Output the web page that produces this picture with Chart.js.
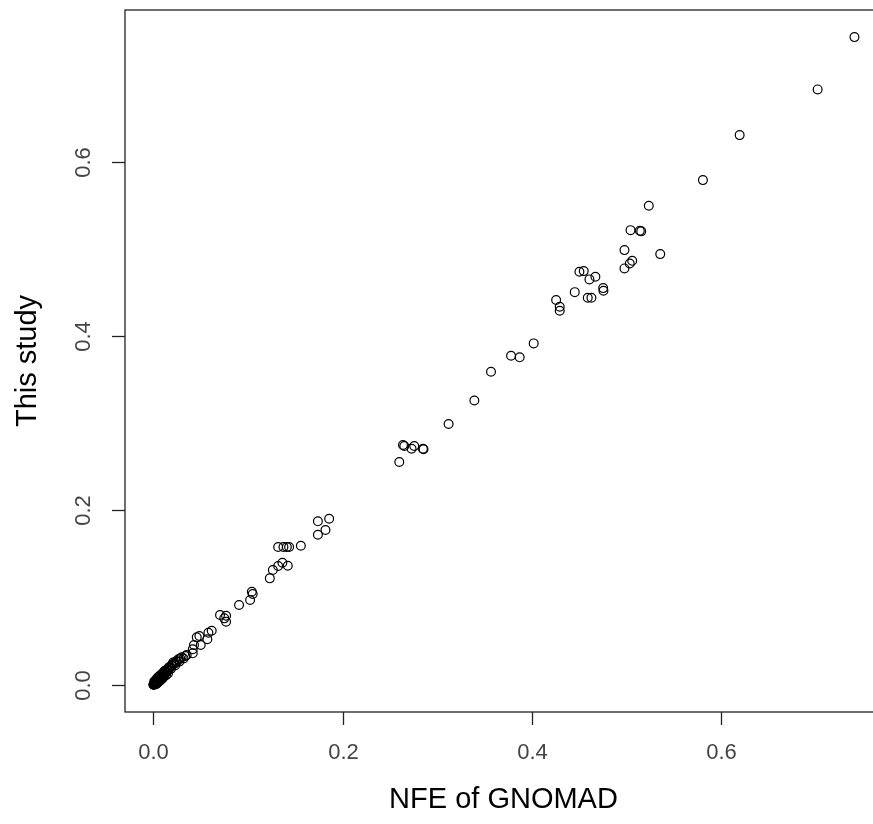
<!DOCTYPE html>
<html>
<head>
  <meta charset="utf-8">
  <style>
    html, body { margin: 0; padding: 0; background: white; overflow: hidden; }
    #wrap { width: 890px; height: 824px; }
  </style>
  <script src="https://cdn.jsdelivr.net/npm/chart.js@4.4.0/dist/chart.umd.min.js"></script>
</head>
<body>
  <div id="wrap"><canvas id="myChart" width="890" height="824"></canvas></div>
  <script>
    // NFE of GNOMAD (x) vs this study (y)
    var gnomad = [
      0.7408, 0.7019, 0.6195, 0.5807, 0.5235, 0.5356, 0.5140, 0.5155, 0.5042, 0.4978,
      0.5060, 0.5034, 0.4978, 0.4502, 0.4548, 0.4608, 0.4671, 0.4753, 0.4756, 0.4453,
      0.4590, 0.4629, 0.4256, 0.4294, 0.4294, 0.4019, 0.3780, 0.3871, 0.3568, 0.3392,
      0.3120, 0.2638, 0.2652, 0.2757, 0.2729, 0.2849, 0.2855, 0.2599, 0.1858, 0.1739,
      0.1819, 0.1739, 0.1559, 0.1319, 0.1375, 0.1411, 0.1435, 0.1364, 0.1421, 0.1319,
      0.1263, 0.1231, 0.1041, 0.1050, 0.1023, 0.0906, 0.0705, 0.0769, 0.0750, 0.0769,
      0.0617, 0.0582, 0.0487, 0.0459, 0.0571, 0.0501, 0.0430, 0.0417, 0.0417, 0.0353,
      0.0300, 0.0265, 0.0240, 0.0225, 0.0210, 0.0195, 0.0180, 0.0170, 0.0160, 0.0150,
      0.0140, 0.0130, 0.0120, 0.0112, 0.0105, 0.0098, 0.0090, 0.0084, 0.0078, 0.0072,
      0.0066, 0.0060, 0.0055, 0.0050, 0.0045, 0.0040, 0.0036, 0.0032, 0.0028, 0.0024,
      0.0020, 0.0017, 0.0014, 0.0011, 0.0009, 0.0007, 0.0005, 0.0004, 0.0003, 0.0002,
      0.0010, 0.0020, 0.0030, 0.0035, 0.0015, 0.0085, 0.0110, 0.0125, 0.0185, 0.0230,
      0.0275, 0.0285, 0.0320, 0.0340,
      0.0010, 0.0025, 0.0040, 0.0055, 0.0070, 0.0090, 0.0105, 0.0120, 0.0145, 0.0165,
      0.0195, 0.0215, 0.0250, 0.0045, 0.0065, 0.0080, 0.0100, 0.0135, 0.0155, 0.0030
    ];
    var thisStudy = [
      0.7428, 0.6828, 0.6304, 0.5788, 0.5493, 0.4939, 0.5206, 0.5200, 0.5214, 0.4985,
      0.4862, 0.4832, 0.4775, 0.4736, 0.4744, 0.4649, 0.4680, 0.4549, 0.4518, 0.4503,
      0.4438, 0.4438, 0.4412, 0.4335, 0.4289, 0.3915, 0.3773, 0.3755, 0.3590, 0.3260,
      0.2990, 0.2749, 0.2738, 0.2738, 0.2706, 0.2706, 0.2700, 0.2554, 0.1904, 0.1874,
      0.1774, 0.1720, 0.1594, 0.1579, 0.1579, 0.1579, 0.1579, 0.1399, 0.1365, 0.1361,
      0.1315, 0.1220, 0.1067, 0.1040, 0.0971, 0.0914, 0.0799, 0.0791, 0.0761, 0.0722,
      0.0619, 0.0596, 0.0558, 0.0543, 0.0521, 0.0455, 0.0455, 0.0406, 0.0360, 0.0341,
      0.0314, 0.0291, 0.0270, 0.0240, 0.0255, 0.0215, 0.0200, 0.0185, 0.0170, 0.0160,
      0.0150, 0.0138, 0.0125, 0.0118, 0.0110, 0.0100, 0.0095, 0.0088, 0.0080, 0.0074,
      0.0068, 0.0062, 0.0056, 0.0050, 0.0046, 0.0040, 0.0036, 0.0030, 0.0026, 0.0022,
      0.0018, 0.0015, 0.0012, 0.0009, 0.0006, 0.0004, 0.0003, 0.0002, 0.0001, 0.0000,
      0.0002, 0.0008, 0.0040, 0.0025, 0.0030, 0.0070, 0.0095, 0.0145, 0.0180, 0.0220,
      0.0265, 0.0300, 0.0300, 0.0330,
      0.0035, 0.0055, 0.0075, 0.0090, 0.0105, 0.0120, 0.0140, 0.0160, 0.0175, 0.0200,
      0.0225, 0.0240, 0.0265, 0.0020, 0.0040, 0.0055, 0.0075, 0.0110, 0.0130, 0.0005
    ];
    var xTicks = [0.0, 0.2, 0.4, 0.6];
    var yTicks = [0.0, 0.2, 0.4, 0.6];
    var xTitle = 'NFE of GNOMAD';
    var yTitle = 'This study';

    var points = gnomad.map(function (x, i) { return { x: x, y: thisStudy[i] }; });

    // R-style box, ticks and labels drawn from the chart's scales
    var rAxes = {
      id: 'rAxes',
      afterDraw: function (chart) {
        var c = chart.ctx, a = chart.chartArea;
        var sx = chart.scales.x, sy = chart.scales.y;
        c.save();
        c.strokeStyle = '#222';
        c.lineWidth = 1.3;
        c.strokeRect(a.left, a.top, a.right - a.left, a.bottom - a.top);
        c.fillStyle = '#444';
        c.font = '22px "Liberation Sans", Arial, sans-serif';
        c.textAlign = 'center';
        c.textBaseline = 'middle';
        xTicks.forEach(function (t) {
          var px = Math.round(sx.getPixelForValue(t)) + 0.5;
          c.beginPath(); c.moveTo(px, a.bottom); c.lineTo(px, a.bottom + 13); c.stroke();
          c.fillText(t.toFixed(1), px, a.bottom + 41);
        });
        yTicks.forEach(function (t) {
          var py = Math.round(sy.getPixelForValue(t)) + 0.5;
          c.beginPath(); c.moveTo(a.left, py); c.lineTo(a.left - 13, py); c.stroke();
          c.save();
          c.translate(a.left - 41, py);
          c.rotate(-Math.PI / 2);
          c.fillText(t.toFixed(1), 0, 0);
          c.restore();
        });
        c.fillStyle = '#000';
        c.font = '29px "Liberation Sans", Arial, sans-serif';
        c.fillText(xTitle, (a.left + a.right) / 2, a.bottom + 88);
        c.save();
        c.translate(a.left - 97, (a.top + a.bottom) / 2);
        c.rotate(-Math.PI / 2);
        c.fillText(yTitle, 0, 0);
        c.restore();
        c.restore();
      }
    };

    var ctx = document.getElementById('myChart').getContext('2d');
    var myChart = new Chart(ctx, {
      type: 'scatter',
      data: {
        datasets: [{
          data: points,
          pointStyle: 'circle',
          pointRadius: 4.4,
          pointBorderWidth: 1.2,
          borderColor: '#000',
          backgroundColor: 'rgba(0,0,0,0)'
        }]
      },
      options: {
        responsive: false,
        animation: false,
        layout: { padding: { left: 125, top: 10, right: 8, bottom: 112 } },
        plugins: { legend: { display: false }, tooltip: { enabled: false } },
        scales: {
          x: { type: 'linear', display: false, min: -0.0299, max: 0.7699 },
          y: { type: 'linear', display: false, min: -0.0313, max: 0.7739 }
        }
      },
      plugins: [rAxes]
    });
  </script>
</body>
</html>
